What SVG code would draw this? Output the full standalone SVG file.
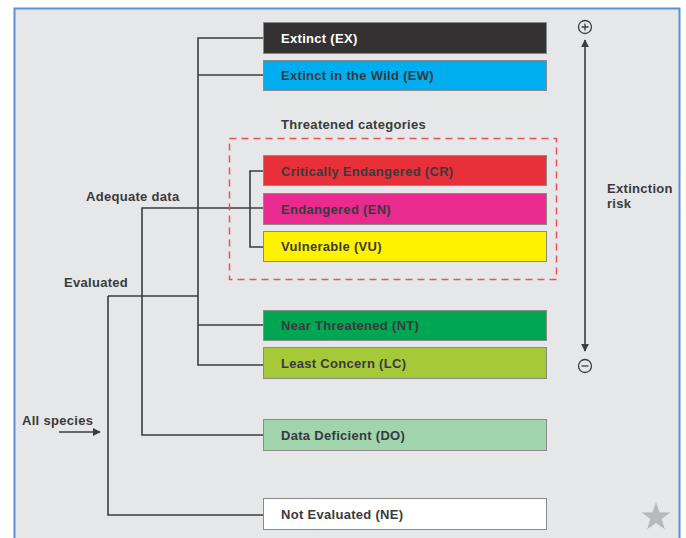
<svg xmlns="http://www.w3.org/2000/svg" width="686" height="538" viewBox="0 0 686 538">
<style>
.t{font-family:"Liberation Sans",Arial,sans-serif;font-weight:bold;font-size:13px;letter-spacing:0.3px;fill:#3a3a3c}
.box{stroke:#8a8a8a;stroke-width:1}
.ln{fill:none;stroke:#3d3d3f;stroke-width:1.6}
</style>
<defs>
<marker id="ah" viewBox="0 0 10 10" refX="9" refY="5" markerWidth="5" markerHeight="5" orient="auto-start-reverse">
<path d="M0,0 L10,5 L0,10 z" fill="#3d3d3f"/>
</marker>
</defs>
<rect x="0" y="0" width="686" height="538" fill="#ffffff"/>
<rect x="14.5" y="8.5" width="665" height="540" fill="#e6e7e9" stroke="#5b8fd6" stroke-width="2"/>

<g id="connectors">
<path class="ln" d="M263,38 H198 V365 H263"/>
<path class="ln" d="M198,75 H263"/>
<path class="ln" d="M198,325 H263"/>
<path class="ln" d="M108,296 H198"/>
<path class="ln" d="M108,296 V515 H263"/>
<path class="ln" d="M263,208 H142 V435 H263"/>
<path class="ln" d="M263,171 H250 V247 H263"/>
<path class="ln" d="M59,432 H100" marker-end="url(#ah)"/>
<path class="ln" d="M585,40 V351" marker-start="url(#ah)" marker-end="url(#ah)"/>
</g>

<g id="threatened-group">
<rect x="229.5" y="138.5" width="327" height="141" fill="none" stroke="#e8525a" stroke-width="1.5" stroke-dasharray="7,5"/>
<text class="t" x="281" y="129">Threatened categories</text>
</g>

<g id="EX"><rect class="box" x="263.5" y="22.5" width="283" height="31" fill="#333132"/><text class="t" x="281" y="43" style="fill:#ffffff">Extinct (EX)</text></g>
<g id="EW"><rect class="box" x="263.5" y="60.5" width="283" height="30" fill="#00adef"/><text class="t" x="281" y="80">Extinct in the Wild (EW)</text></g>
<g id="CR"><rect class="box" x="263.5" y="155.5" width="283" height="30" fill="#e8303a"/><text class="t" x="281" y="176">Critically Endangered (CR)</text></g>
<g id="EN"><rect class="box" x="263.5" y="193.5" width="283" height="31" fill="#e92a8f"/><text class="t" x="281" y="214">Endangered (EN)</text></g>
<g id="VU"><rect class="box" x="263.5" y="231.5" width="283" height="30" fill="#fff200"/><text class="t" x="281" y="251">Vulnerable (VU)</text></g>
<g id="NT"><rect class="box" x="263.5" y="310.5" width="283" height="30" fill="#00a651"/><text class="t" x="281" y="330">Near Threatened (NT)</text></g>
<g id="LC"><rect class="box" x="263.5" y="347.5" width="283" height="31" fill="#a6c93a"/><text class="t" x="281" y="368">Least Concern (LC)</text></g>
<g id="DD"><rect class="box" x="263.5" y="419.5" width="283" height="31" fill="#9fd4ad"/><text class="t" x="281" y="440">Data Deficient (DO)</text></g>
<g id="NE"><rect class="box" x="263.5" y="498.5" width="283" height="31" fill="#ffffff"/><text class="t" x="281" y="519">Not Evaluated (NE)</text></g>

<g id="labels">
<text class="t" x="86" y="201">Adequate data</text>
<text class="t" x="64" y="287">Evaluated</text>
<text class="t" x="22" y="425">All species</text>
<text class="t" x="607" y="193">Extinction</text>
<text class="t" x="607" y="208">risk</text>
</g>

<g id="risk-scale">
<circle cx="585" cy="27" r="6.5" fill="none" stroke="#3d3d3f" stroke-width="1.3"/>
<path d="M581.5,27 H588.5 M585,23.5 V30.5" stroke="#3d3d3f" stroke-width="1.3"/>
<circle cx="585" cy="366" r="6.5" fill="none" stroke="#3d3d3f" stroke-width="1.3"/>
<path d="M581.5,366 H588.5" stroke="#3d3d3f" stroke-width="1.3"/>
</g>

<polygon points="656,502 659.5,512.2 670.3,512.4 661.7,518.9 664.8,529.3 656,523.1 647.2,529.3 650.3,518.9 641.7,512.4 652.5,512.2" fill="#b8b9bb"/>
</svg>
